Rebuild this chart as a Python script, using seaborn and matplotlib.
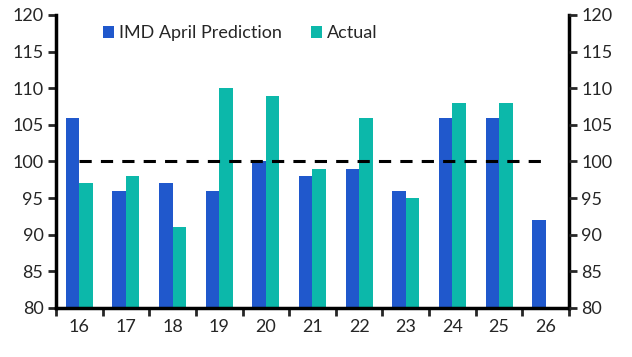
import pandas as pd
import matplotlib.pyplot as plt
import matplotlib.ticker as mticker
import seaborn as sns

anos = ['16', '17', '18', '19', '20', '21', '22', '23', '24', '25', '26']
previsao = [106, 96, 97, 96, 100, 98, 99, 96, 106, 106, 92]
real = [97, 98, 91, 110, 109, 99, 106, 95, 108, 108, None]

base = pd.DataFrame({
    'ano': anos * 2,
    'valor': previsao + real,
    'serie': ['IMD April Prediction'] * len(anos) + ['Actual'] * len(anos),
})

sns.set_style('white')
plt.rcParams['font.family'] = ['Lato', 'DejaVu Sans']

fig = plt.figure(figsize=(6.32, 3.57), dpi=100)
ax = fig.add_axes([0.0886, 0.1373, 0.8117, 0.8207])

sns.barplot(data=base, x='ano', y='valor', hue='serie', width=0.58,
            palette=['#2058CC', '#0CB8AA'], saturation=1, linewidth=0, ax=ax)

# linha de referencia em 100
ax.hlines(100, 0, len(anos) - 1, colors='black', linestyles=(0, (4, 3)), linewidth=2.2, zorder=5)

ax.set_ylim(80, 120)
ax.set_xlim(-0.5, len(anos) - 0.5)
ax.set_yticks(range(80, 121, 5))
ax.set_xlabel('')
ax.set_ylabel('')

ax.xaxis.set_minor_locator(mticker.FixedLocator([i - 0.5 for i in range(len(anos) + 1)]))
ax.tick_params(axis='x', which='major', length=0, labelsize=13, pad=8)
ax.tick_params(axis='x', which='minor', length=6, width=2, direction='out', bottom=True)
ax.tick_params(axis='y', length=6, width=2, direction='out', left=True, labelsize=13, pad=3)

for lado in ['left', 'right', 'bottom']:
    ax.spines[lado].set_linewidth(2.5)
    ax.spines[lado].set_color('black')
ax.spines['top'].set_visible(False)

ax2 = ax.twinx()
ax2.set_ylim(80, 120)
ax2.set_yticks(range(80, 121, 5))
ax2.tick_params(axis='y', length=6, width=2, direction='out', right=True, labelsize=13, pad=3)
for lado in ['left', 'right', 'bottom', 'top']:
    ax2.spines[lado].set_visible(False)
ax2.grid(False)

leg = ax.legend(loc='upper left', bbox_to_anchor=(0.06, 1.02), ncol=2, frameon=False,
                fontsize=13, handlelength=0.6, handleheight=0.6, handletextpad=0.3,
                columnspacing=1.6)

fig.savefig('out.png', dpi=100)
